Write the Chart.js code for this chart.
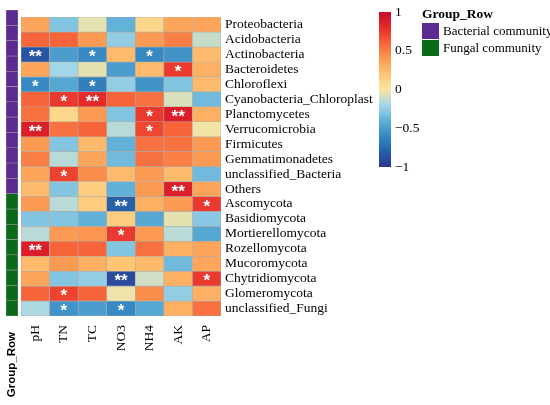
<!DOCTYPE html>
<html>
<head>
  <meta charset="utf-8">
  <title>Correlation heatmap</title>
  <script src="https://cdn.jsdelivr.net/npm/chart.js@4/dist/chart.umd.min.js"></script>
  <style>
    html, body { margin: 0; padding: 0; background: #fff; }
    #wrap { position: relative; width: 550px; height: 405px; overflow: hidden; }
    canvas { position: absolute; }
    #groupLegend { position: absolute; left: 422px; top: 6px; font-family: "Liberation Serif", serif; font-size: 13px; color: #000; white-space: nowrap; }
    #groupLegend .title { font-weight: bold; font-size: 13.5px; height: 16px; line-height: 16px; }
    #groupLegend .item { height: 17px; line-height: 17px; display: flex; align-items: center; }
    #groupLegend .sw { width: 17px; height: 16px; margin-right: 4px; flex: none; }
  </style>
</head>
<body>
<div id="wrap">
  <canvas id="groupChart" width="30" height="400" style="left:0;top:5px"></canvas>
  <canvas id="heatChart" width="365" height="400" style="left:16px;top:5px"></canvas>
  <canvas id="barChart" width="60" height="185" style="left:374px;top:0"></canvas>
  <div id="groupLegend">
    <div class="title">Group_Row</div>
    <div class="item"><div class="sw" style="background:#5c2a90"></div>Bacterial community</div>
    <div class="item"><div class="sw" style="background:#0b6a17"></div>Fungal community</div>
  </div>
</div>
<script>
  const rows = ['Proteobacteria', 'Acidobacteria', 'Actinobacteria', 'Bacteroidetes', 'Chloroflexi',
    'Cyanobacteria_Chloroplast', 'Planctomycetes', 'Verrucomicrobia', 'Firmicutes', 'Gemmatimonadetes',
    'unclassified_Bacteria', 'Others', 'Ascomycota', 'Basidiomycota', 'Mortierellomycota',
    'Rozellomycota', 'Mucoromycota', 'Chytridiomycota', 'Glomeromycota', 'unclassified_Fungi'];
  const groups = ['B','B','B','B','B','B','B','B','B','B','B','B','F','F','F','F','F','F','F','F'];
  const cols = ['pH', 'TN', 'TC', 'NO3', 'NH4', 'AK', 'AP'];

  // correlation values, one list per soil variable (rows in the order above)
  const pH  = [0.35, 0.6, -0.85, 0.35, -0.6, 0.6, 0.55, 0.88, 0.4, 0.5, 0.35, 0.25, 0.4, -0.3, -0.15, 0.88, 0.25, 0.35, 0.6, -0.18];
  const TN  = [-0.3, 0.6, -0.5, -0.2, -0.45, 0.75, 0.1, 0.55, -0.3, -0.15, 0.72, -0.3, -0.15, -0.3, 0.4, 0.6, 0.4, -0.3, 0.72, -0.55];
  const TC  = [-0.05, 0.4, -0.6, -0.05, -0.65, 0.8, 0.4, 0.6, 0.25, 0.35, 0.45, 0.15, 0.15, -0.4, 0.42, 0.6, 0.3, -0.25, 0.6, -0.5];
  const NO3 = [-0.4, -0.25, 0.25, -0.5, -0.25, 0.6, -0.3, -0.15, -0.4, -0.35, 0.25, -0.4, -0.8, 0.15, 0.75, -0.3, 0.2, -0.9, -0.03, -0.6];
  const NH4 = [0.1, 0.4, -0.6, 0.25, -0.55, 0.55, 0.75, 0.7, 0.55, 0.55, 0.4, 0.4, 0.3, -0.45, 0.4, 0.55, 0.25, -0.1, 0.45, -0.45];
  const AK  = [0.35, 0.5, -0.55, 0.75, -0.3, -0.08, 0.88, 0.6, 0.55, 0.5, 0.25, 0.88, 0.4, -0.05, -0.15, 0.3, -0.35, 0.3, -0.25, 0.3];
  const AP  = [0.35, -0.12, 0.25, 0.3, 0.25, -0.35, 0.3, -0.02, 0.4, 0.4, -0.35, 0.35, 0.75, -0.28, -0.45, 0.35, 0.35, 0.75, 0.3, 0.55];

  // significance marks
  const sigPH  = ['', '', '**', '', '*', '', '', '**', '', '', '', '', '', '', '', '**', '', '', '', ''];
  const sigTN  = ['', '', '', '', '', '*', '', '', '', '', '*', '', '', '', '', '', '', '', '*', '*'];
  const sigTC  = ['', '', '*', '', '*', '**', '', '', '', '', '', '', '', '', '', '', '', '', '', ''];
  const sigNO3 = ['', '', '', '', '', '', '', '', '', '', '', '', '**', '', '*', '', '', '**', '', '*'];
  const sigNH4 = ['', '', '*', '', '', '', '*', '*', '', '', '', '', '', '', '', '', '', '', '', ''];
  const sigAK  = ['', '', '', '*', '', '', '**', '', '', '', '', '**', '', '', '', '', '', '', '', ''];
  const sigAP  = ['', '', '', '', '', '', '', '', '', '', '', '', '*', '', '', '', '', '*', '', ''];

  const colorTicks = [-1, -0.5, 0, 0.5, 1];

  const values = [pH, TN, TC, NO3, NH4, AK, AP];
  const sigs = [sigPH, sigTN, sigTC, sigNO3, sigNH4, sigAK, sigAP];
  const groupColors = { B: '#5c2a90', F: '#0b6a17' };

  const stops = [
    [-1, '#2b3591'], [-0.8, '#2560a9'], [-0.6, '#3689c2'], [-0.4, '#62b1d8'],
    [-0.2, '#a3d6e8'], [0, '#fbe6a0'], [0.2, '#fdc574'], [0.4, '#fb9a52'],
    [0.6, '#f7643a'], [0.8, '#e52b2a'], [1, '#cc0a2b']
  ];
  function hex(h) { return [1, 3, 5].map(i => parseInt(h.substr(i, 2), 16)); }
  function colorFor(v) {
    for (let i = 1; i < stops.length; i++) {
      if (v <= stops[i][0]) {
        const t = (v - stops[i - 1][0]) / (stops[i][0] - stops[i - 1][0]);
        const a = hex(stops[i - 1][1]), b = hex(stops[i][1]);
        const c = a.map((x, k) => Math.round(x + (b[k] - x) * t));
        return `rgb(${c[0]},${c[1]},${c[2]})`;
      }
    }
    return stops[stops.length - 1][1];
  }

  const serif = '"Liberation Serif", "Times New Roman", serif';
  const noSidePad = s => { s.paddingLeft = 0; s.paddingRight = 0; };

  // white asterisks on top of the cells
  const starPlugin = {
    id: 'stars',
    afterDatasetsDraw(chart) {
      const ctx = chart.ctx;
      ctx.save();
      ctx.fillStyle = '#fff';
      ctx.font = 'bold 17px "Liberation Sans", Arial, sans-serif';
      ctx.textAlign = 'center';
      ctx.textBaseline = 'middle';
      chart.data.datasets.forEach((ds, r) => {
        chart.getDatasetMeta(r).data.forEach((bar, c) => {
          const s = sigs[c][r];
          if (s) ctx.fillText(s, bar.x, (bar.y + bar.base) / 2 + 3);
        });
      });
      ctx.restore();
    }
  };

  new Chart(document.getElementById('heatChart'), {
    type: 'bar',
    data: {
      labels: cols,
      datasets: rows.map((name, r) => ({
        label: name,
        data: cols.map(() => [r, r + 1]),
        backgroundColor: cols.map((_, c) => colorFor(values[c][r])),
        borderColor: '#b0aca8',
        borderWidth: 0.6,
        borderSkipped: false,
        barPercentage: 1,
        categoryPercentage: 1,
        grouped: false
      }))
    },
    options: {
      responsive: false,
      animation: false,
      layout: { padding: { left: 5, top: 5, right: 0, bottom: 0 } },
      plugins: { legend: { display: false }, tooltip: { enabled: false } },
      scales: {
        x: {
          grid: { display: false, drawTicks: false },
          border: { display: false },
          ticks: { minRotation: 90, maxRotation: 90, padding: 9, color: '#000', font: { family: serif, size: 13.5 } },
          afterFit: s => { s.height = 89; noSidePad(s); }
        },
        y: {
          position: 'right',
          reverse: true,
          min: 0, max: 20,
          grid: { display: false, drawTicks: false },
          border: { display: false },
          afterBuildTicks: s => { s.ticks = rows.map((_, i) => ({ value: i + 0.5 })); },
          ticks: {
            padding: 4, color: '#000', autoSkip: false,
            font: { family: serif, size: 13.5 },
            callback: v => rows[Math.floor(v)]
          },
          afterFit: s => { s.width = 160; }
        }
      }
    },
    plugins: [starPlugin]
  });

  // group annotation column
  new Chart(document.getElementById('groupChart'), {
    type: 'bar',
    data: {
      labels: ['Group_Row'],
      datasets: rows.map((name, r) => ({
        label: name,
        data: [[r, r + 1]],
        backgroundColor: groupColors[groups[r]],
        borderColor: '#9a9a9a',
        borderWidth: 0.6,
        borderSkipped: false,
        barPercentage: 1,
        categoryPercentage: 1,
        grouped: false
      }))
    },
    options: {
      responsive: false,
      animation: false,
      layout: { padding: { left: 6, top: 5, right: 12, bottom: 0 } },
      plugins: { legend: { display: false }, tooltip: { enabled: false } },
      scales: {
        x: {
          grid: { display: false, drawTicks: false },
          border: { display: false },
          ticks: { minRotation: 90, maxRotation: 90, padding: 16, color: '#000',
                   font: { family: '"Liberation Sans", Arial, sans-serif', size: 11.5, weight: 'bold' } },
          afterFit: s => { s.height = 89; noSidePad(s); }
        },
        y: { display: false, reverse: true, min: 0, max: 20 }
      }
    }
  });

  // colour key
  new Chart(document.getElementById('barChart'), {
    type: 'bar',
    data: {
      labels: ['r'],
      datasets: [{
        data: [[-1, 1]],
        barPercentage: 1,
        categoryPercentage: 1,
        backgroundColor: ctx => {
          const { chart } = ctx;
          const area = chart.chartArea;
          if (!area) return '#fbe6a0';
          const yS = chart.scales.y;
          const g = chart.ctx.createLinearGradient(0, yS.getPixelForValue(-1), 0, yS.getPixelForValue(1));
          for (let i = 0; i <= 40; i++) {
            const v = -1 + i / 20;
            g.addColorStop(Math.min(i / 40, 1), colorFor(Math.min(v, 1)));
          }
          return g;
        }
      }]
    },
    options: {
      responsive: false,
      animation: false,
      layout: { padding: { left: 5, top: 10, right: 0, bottom: 18 } },
      plugins: { legend: { display: false }, tooltip: { enabled: false } },
      scales: {
        x: { display: false },
        y: {
          position: 'right',
          min: -1, max: 1,
          grid: { display: false, drawTicks: false },
          border: { display: false },
          afterBuildTicks: s => { s.ticks = colorTicks.map(v => ({ value: v })); },
          ticks: {
            padding: 4, color: '#000',
            font: { family: serif, size: 13.5 },
            callback: v => String(v).replace('-', '\u2212')
          },
          afterFit: s => { s.width = 43; }
        }
      }
    }
  });
</script>
</body>
</html>
